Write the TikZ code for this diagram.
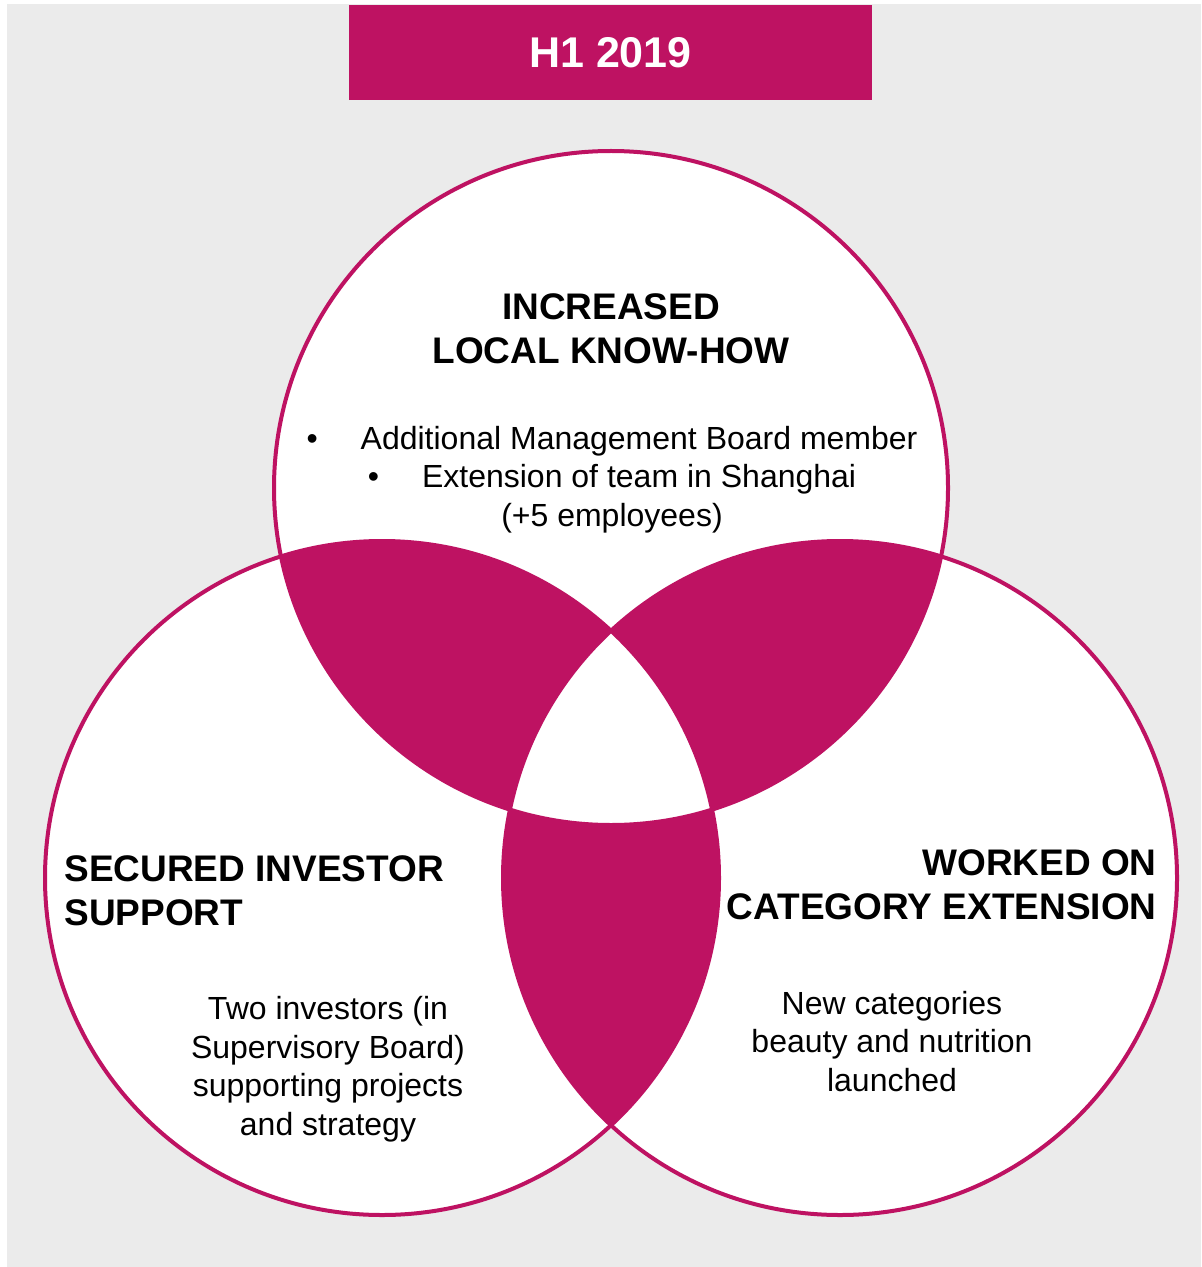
\documentclass[tikz,border=0pt]{standalone}
\usepackage{fontspec}
\setmainfont{Liberation Sans}
\usetikzlibrary{positioning}
\definecolor{berry}{RGB}{190,18,98}
\definecolor{panel}{RGB}{235,235,235}

\begin{document}
\begin{tikzpicture}[%
		x=0.5pt, y=-0.5pt,
		ring/.style={draw=berry, line width=2pt},
		titlebox/.style={%
			fill=berry,
			text=white,
			font=\fontsize{21.5}{26}\selectfont\bfseries,
			minimum width=261.5pt,
			minimum height=47.5pt,
			inner sep=0pt
		},
		headline/.style={font=\fontsize{18.5}{22}\selectfont\bfseries, inner sep=0pt},
		bodytext/.style={font=\fontsize{16}{19.25}\selectfont, inner sep=0pt, align=center}
		]
		\useasboundingbox (0,0) rectangle (1201,1267);
		\fill[panel] (7,4) rectangle (1201,1267);
		
		\def\rad{168.5pt}
		\coordinate (ct) at (611,488);
		\coordinate (cl) at (382,878);
		\coordinate (cr) at (840,878);
		
		% white discs
		\foreach \c in {ct,cl,cr}
			\fill[white] (\c) circle[radius=\rad];
		
		% where two circles overlap
		\foreach \a/\b in {ct/cl, ct/cr, cl/cr}{
			\begin{scope}
				\clip (\a) circle[radius=\rad];
				\fill[berry] (\b) circle[radius=\rad];
			\end{scope}
		}
		% middle stays white
		\begin{scope}
			\clip (ct) circle[radius=\rad];
			\clip (cl) circle[radius=\rad];
			\fill[white] (cr) circle[radius=\rad];
		\end{scope}
		
		\foreach \c in {ct,cl,cr}
			\draw[ring] (\c) circle[radius=\rad];
		
		\node[titlebox] (hdr) at (610.5,52.5) {H1 2019};
		
		% base anchor = baseline of the last line
		\node[headline, align=center, anchor=base] (know) at (611,364) {INCREASED\\LOCAL KNOW-HOW};
		\node[bodytext, anchor=base] (knowtxt) at (612,526)
			{\textbullet\hspace{21.5pt}Additional Management Board member\\
			 \textbullet\hspace{21.5pt}Extension of team in Shanghai\\
			 (+5 employees)};
		
		\node[headline, align=left, anchor=base west] (invest) at (64,925) {SECURED INVESTOR\\SUPPORT};
		\node[bodytext, anchor=base] (investtxt) at (328,1135)
			{Two investors (in\\Supervisory Board)\\supporting projects\\and strategy};
		
		\node[headline, align=right, anchor=base east] (categ) at (1157,919) {WORKED ON\\CATEGORY EXTENSION};
		\node[bodytext, anchor=base] (categtxt) at (892,1091)
			{New categories\\beauty and nutrition\\launched};
\end{tikzpicture}
\end{document}
